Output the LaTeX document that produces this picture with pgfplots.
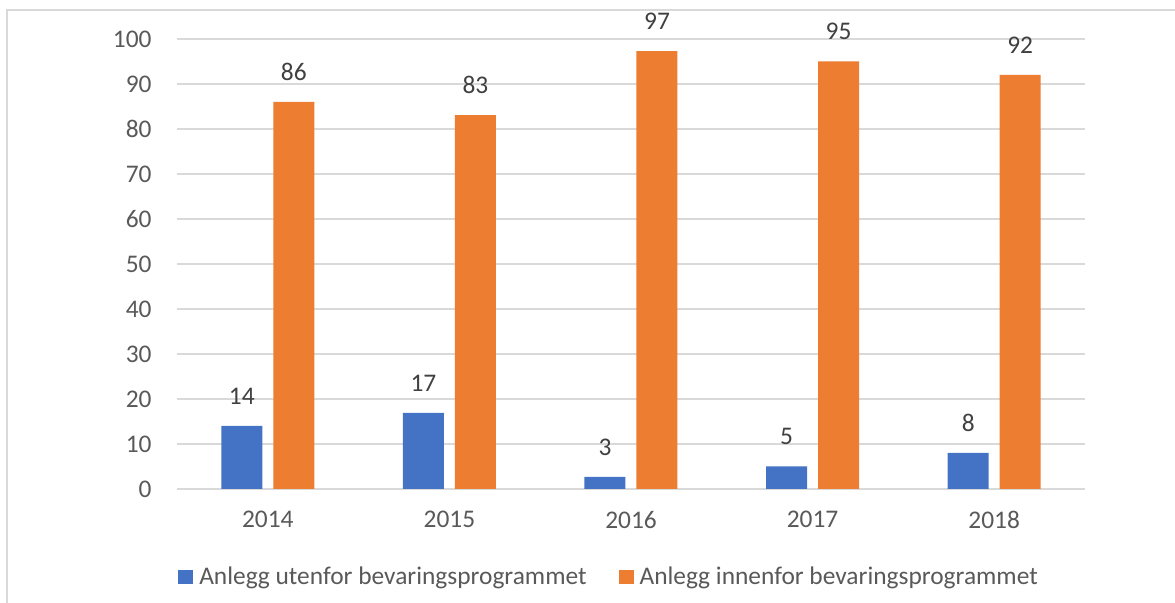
\documentclass[border=0pt]{standalone}
\usepackage{fontspec}
\setmainfont{Carlito}
\usepackage{pgfplots}
\usepackage{pgfplotstable}
\pgfplotsset{compat=1.18}

\definecolor{barblue}{HTML}{4472C4}
\definecolor{barorange}{HTML}{ED7D31}
\definecolor{gridgray}{HTML}{D9D9D9}
\definecolor{ticktext}{HTML}{595959}
\definecolor{valtext}{HTML}{404040}

% share of facilities, by year
\pgfplotstableread{
x  year  ute   inne
0  2014  14.0  86.0
1  2015  16.9  83.1
2  2016  2.7   97.3
3  2017  5.0   95.0
4  2018  8.0   92.0
}\anleggdata

\newcommand{\chartfont}{\fontsize{12.7}{15}\selectfont}

\begin{document}
\begin{tikzpicture}
\useasboundingbox (0pt,0pt) rectangle (587.5pt,301.5pt);
\draw[gridgray, line width=0.75pt] (3.5pt,296.5pt) rectangle (640pt,-40pt);
\begin{axis}[
  at={(88.5pt,57pt)}, anchor=south west,
  scale only axis, width=454pt, height=225pt,
  xmin=-0.5, xmax=4.5, ymin=0, ymax=100,
  ybar=5.5pt, bar width=20.5pt,
  axis line style={draw=none},
  major tick length=0pt,
  ytick={0,10,...,100},
  xtick={0,...,4},
  xticklabels={2014,2015,2016,2017,2018},
  /pgf/number format/assume math mode=true,
  ymajorgrids,
  grid style={gridgray, line width=0.75pt},
  tick label style={font=\chartfont, text=ticktext},
  yticklabel style={inner sep=0pt, anchor=east, xshift=-12.5pt},
  xticklabel style={inner sep=0pt, anchor=north, yshift=-11pt},
  nodes near coords={\pgfmathprintnumber[fixed,precision=0]{\pgfplotspointmeta}},
  every node near coord/.append style={font=\chartfont, text=valtext, inner sep=0pt, anchor=south, yshift=10.5pt},
  legend columns=2,
  legend style={at={(0.4747,-0.1956)}, anchor=center, draw=none, fill=none,
    font=\chartfont, text=ticktext, nodes={inner sep=0pt},
    /tikz/every odd column/.append style={column sep=3pt},
    /tikz/every even column/.append style={column sep=16pt}},
  legend image code/.code={\fill[#1] (0pt,-3.5pt) rectangle (7.5pt,3.5pt);},
]
\addplot[fill=barblue, draw=none] table[x=x, y=ute] {\anleggdata};
\addplot[fill=barorange, draw=none] table[x=x, y=inne] {\anleggdata};
\legend{Anlegg utenfor bevaringsprogrammet, Anlegg innenfor bevaringsprogrammet}
\end{axis}
\end{tikzpicture}
\end{document}
